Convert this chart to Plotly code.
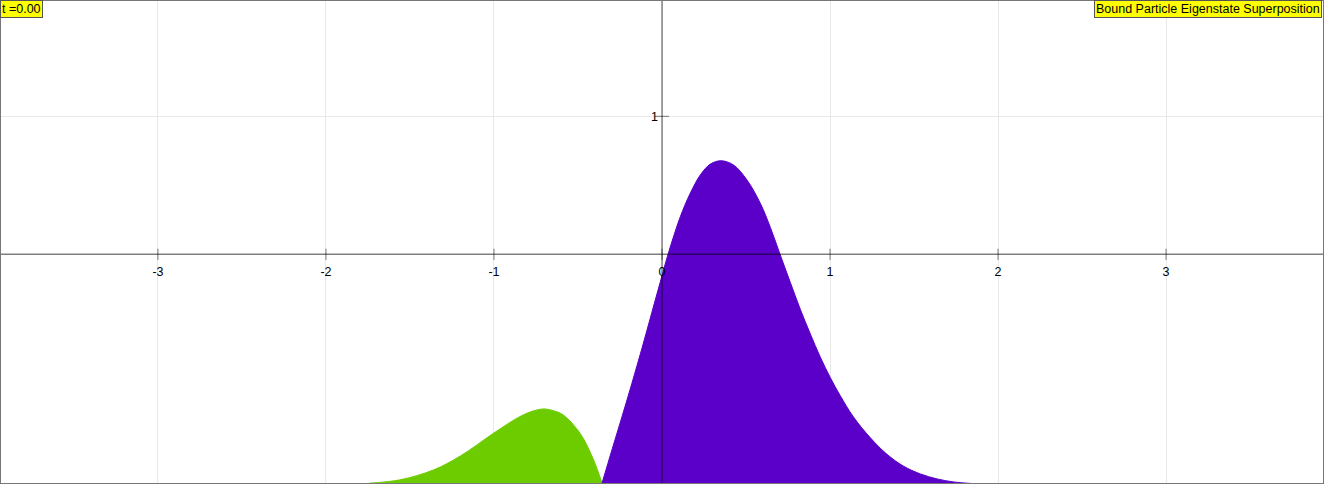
import plotly.graph_objects as go

# view window of the chart (data units)
X_RANGE = [-3.94, 3.94]
Y_RANGE = [-1.665, 1.843]
BASE = -1.70  # fill baseline, just under the bottom edge

# amplitude: negative-phase lobe (green)
green_x = [-1.74, -1.56, -1.36, -1.20, -1.00, -0.86, -0.78, -0.705, -0.64, -0.586, -0.486, -0.407, -0.357]
green_y = [-1.659, -1.635, -1.563, -1.462, -1.295, -1.186, -1.141, -1.121, -1.136, -1.166, -1.300, -1.491, -1.659]

# positive-phase lobe (purple)
purple_x = [-0.357, -0.298, -0.238, -0.179, -0.119, -0.060, -0.010, 0.036, 0.109, 0.168,
            0.228, 0.288, 0.351, 0.426, 0.506, 0.585, 0.645, 0.704, 0.764, 0.823,
            0.883, 0.942, 1.002, 1.061, 1.140, 1.240, 1.339, 1.438, 1.538, 1.637, 1.736, 1.85]
purple_y = [-1.659, -1.418, -1.177, -0.935, -0.680, -0.420, -0.200, 0.0, 0.272, 0.442,
            0.575, 0.654, 0.678, 0.647, 0.538, 0.370, 0.195, -0.005, -0.205, -0.398,
            -0.578, -0.745, -0.895, -1.025, -1.180, -1.330, -1.450, -1.536, -1.592, -1.628, -1.650, -1.662]

x_ticks = [-3, -2, -1, 0, 1, 2, 3]
y_ticks = [1]

GREEN = "#6ccc00"
PURPLE = "#5a00c8"
FONT = "Arial, Liberation Sans, sans-serif"
FS = 12.5

fig = go.Figure()


def add_lobe(xs, ys, color):
    fig.add_trace(go.Scatter(x=[xs[0], xs[-1]], y=[BASE, BASE], mode="lines",
                             line=dict(width=0, color=color), hoverinfo="skip",
                             showlegend=False))
    fig.add_trace(go.Scatter(x=xs, y=ys, mode="lines", fill="tonexty",
                             fillcolor=color,
                             line=dict(width=1, color=color, shape="spline", smoothing=1),
                             hoverinfo="skip", showlegend=False))


add_lobe(green_x, green_y, GREEN)
add_lobe(purple_x, purple_y, PURPLE)

# little tick marks crossing the axes
fig.add_trace(go.Scatter(x=x_ticks, y=[0] * len(x_ticks), mode="markers",
                         marker=dict(symbol="line-ns", size=8,
                                     line=dict(width=1, color="rgba(0,0,0,0.5)")),
                         hoverinfo="skip", showlegend=False))
fig.add_trace(go.Scatter(x=[0] * len(y_ticks), y=y_ticks, mode="markers",
                         marker=dict(symbol="line-ew", size=10,
                                     line=dict(width=1, color="rgba(0,0,0,0.5)")),
                         hoverinfo="skip", showlegend=False))

x_pos = (0 - Y_RANGE[0]) / (Y_RANGE[1] - Y_RANGE[0])
y_pos = (0 - X_RANGE[0]) / (X_RANGE[1] - X_RANGE[0])

fig.update_xaxes(range=X_RANGE, tickvals=x_ticks, ticktext=[str(v) for v in x_ticks],
                 showgrid=True, gridcolor="#e8e8e8", gridwidth=1, zeroline=False,
                 showline=False, ticks="", anchor="free", position=x_pos, side="bottom",
                 layer="above traces", tickfont=dict(family=FONT, size=FS, color="black"),
                 ticklabelstandoff=8, fixedrange=True)
fig.update_yaxes(range=Y_RANGE, tickvals=y_ticks, ticktext=[str(v) for v in y_ticks],
                 showgrid=True, gridcolor="#e8e8e8", gridwidth=1, zeroline=False,
                 showline=False, ticks="", anchor="free", position=y_pos, side="left",
                 layer="above traces", tickfont=dict(family=FONT, size=FS, color="black"),
                 ticklabelstandoff=4, fixedrange=True)

# axis lines drawn over the fills
fig.add_shape(type="line", xref="paper", yref="y", x0=0, x1=1, y0=0, y1=0,
              line=dict(color="rgba(0,0,0,0.5)", width=1.5), layer="above")
fig.add_shape(type="line", xref="x", yref="paper", x0=0, x1=0, y0=0, y1=1,
              line=dict(color="rgba(0,0,0,0.35)", width=2), layer="above")
# frame
fig.add_shape(type="rect", xref="paper", yref="paper", x0=0, x1=1, y0=0, y1=1,
              line=dict(color="#777777", width=2), layer="above")

fig.add_annotation(text="t =0.00", xref="paper", yref="paper", x=0, y=1,
                   xanchor="left", yanchor="top", showarrow=False,
                   bgcolor="#ffff00", bordercolor="#555555", borderwidth=1, borderpad=1,
                   font=dict(family=FONT, size=FS, color="black"))
fig.add_annotation(text="Bound Particle Eigenstate Superposition", xref="paper", yref="paper",
                   x=0.9985, y=1, xanchor="right", yanchor="top", showarrow=False,
                   bgcolor="#ffff00", bordercolor="#555555", borderwidth=1, borderpad=1,
                   font=dict(family=FONT, size=FS, color="black"))

fig.update_layout(width=1324, height=484, margin=dict(l=0, r=0, t=0, b=0),
                  plot_bgcolor="white", paper_bgcolor="white", showlegend=False)

fig.write_html("out.html", config={"displayModeBar": False},
               post_script="document.body.style.margin='0';")
